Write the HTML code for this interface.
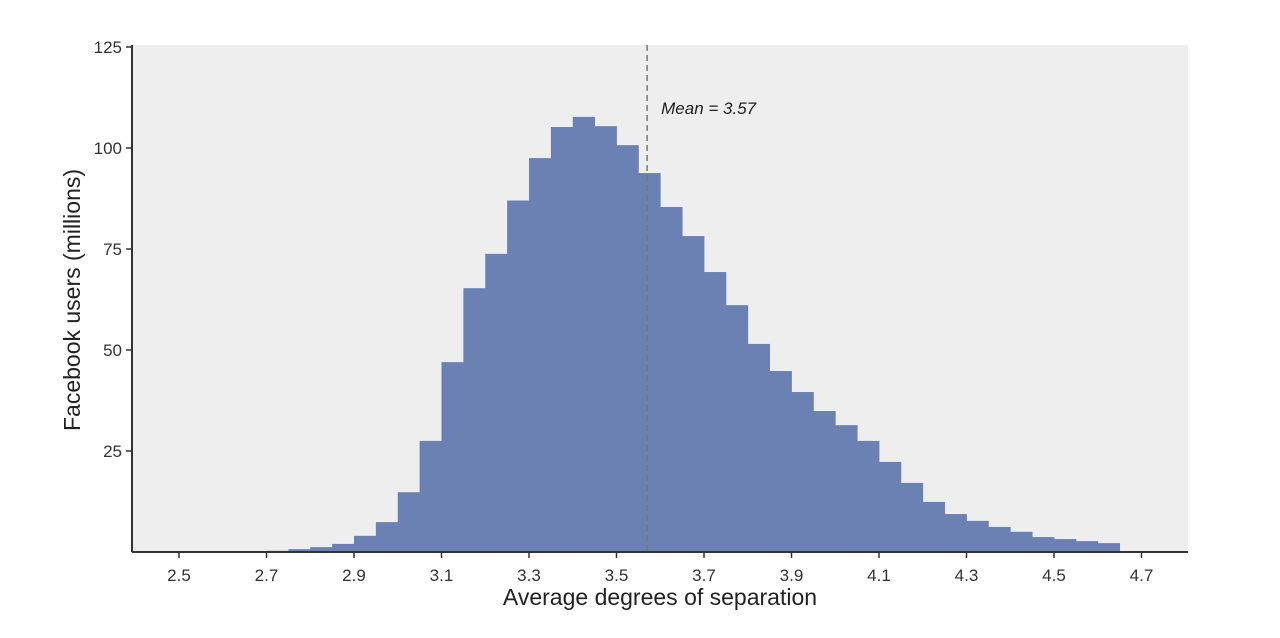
<!DOCTYPE html>
<html><head><meta charset="utf-8"><style>
body{margin:0;background:#fff;}
svg{display:block;font-family:"Liberation Sans",sans-serif;}
</style></head><body>
<svg width="1280" height="638">
<rect x="132" y="45" width="1056" height="507" fill="#eeeeee"/>
<g id="bars"></g>
<g id="axes"></g>
</svg>
<script>
const binStarts=[2.65,2.7,2.75,2.8,2.85,2.9,2.95,3.0,3.05,3.1,3.15,3.2,3.25,3.3,3.35,3.4,3.45,3.5,3.55,3.6,3.65,3.7,3.75,3.8,3.85,3.9,3.95,4.0,4.05,4.1,4.15,4.2,4.25,4.3,4.35,4.4,4.45,4.5,4.55,4.6];
const counts=[0.2,0.3,0.7,1.2,2,4,7.4,14.8,27.5,47,65.3,73.8,87,97.5,105.2,107.7,105.4,100.7,93.8,85.4,78.2,69.3,61.1,51.5,44.8,39.6,34.9,31.4,27.5,22.3,17.1,12.4,9.4,7.7,6.2,5,3.7,3.2,2.7,2.2];
const binWidth=0.05;
const xTicks=[2.5,2.7,2.9,3.1,3.3,3.5,3.7,3.9,4.1,4.3,4.5,4.7];
const yTicks=[25,50,75,100,125];
const meanValue=3.57;
const NS="http://www.w3.org/2000/svg";
const x=v=>179+(v-2.5)/0.2*87.5;
const y=v=>552-v*4.04;
function mk(tag,attrs,parent){const e=document.createElementNS(NS,tag);for(const k in attrs)e.setAttribute(k,attrs[k]);parent.appendChild(e);return e;}
const bars=document.getElementById('bars'),axes=document.getElementById('axes');
binStarts.forEach((b,i)=>{
 const r=mk('rect',{x:x(b),y:y(counts[i]),width:x(b+binWidth)-x(b)+0.4,height:552-y(counts[i]),fill:'#6b81b4'},bars);
 
 
});
const ml=mk('line',{x1:x(meanValue),x2:x(meanValue),y1:45,y2:552,stroke:'#777',"stroke-width":1.5,"stroke-dasharray":"6,4"},axes);


const mt=mk('text',{x:x(meanValue)+14,y:114,"font-size":17,"font-style":"italic",fill:'#222'},axes);
mt.textContent='Mean = '+meanValue;


const ax=mk('line',{x1:132,x2:1188,y1:552,y2:552,stroke:'#333',"stroke-width":2},axes);


const ay=mk('line',{x1:132,x2:132,y1:45,y2:552,stroke:'#333',"stroke-width":2},axes);


xTicks.forEach(t=>{
 mk('line',{x1:x(t),x2:x(t),y1:552,y2:558,stroke:'#333',"stroke-width":1.5},axes);
 const tx=mk('text',{x:x(t),y:581,"font-size":17,"text-anchor":"middle",fill:'#333'},axes);
 tx.textContent=t.toFixed(1);
 
 
});
yTicks.forEach(t=>{
 mk('line',{x1:126,x2:132,y1:y(t),y2:y(t),stroke:'#333',"stroke-width":1.5},axes);
 const ty=mk('text',{x:122,y:y(t)+6,"font-size":17,"text-anchor":"end",fill:'#333'},axes);
 ty.textContent=t;
 
 
});
const xt=mk('text',{x:660,y:605,"font-size":23,"text-anchor":"middle",fill:'#222'},axes);
xt.textContent='Average degrees of separation';


const yt=mk('text',{x:0,y:0,"font-size":23,"text-anchor":"middle",fill:'#222',transform:'translate(80,300) rotate(-90)'},axes);
yt.textContent='Facebook users (millions)';


</script>
</body></html>
